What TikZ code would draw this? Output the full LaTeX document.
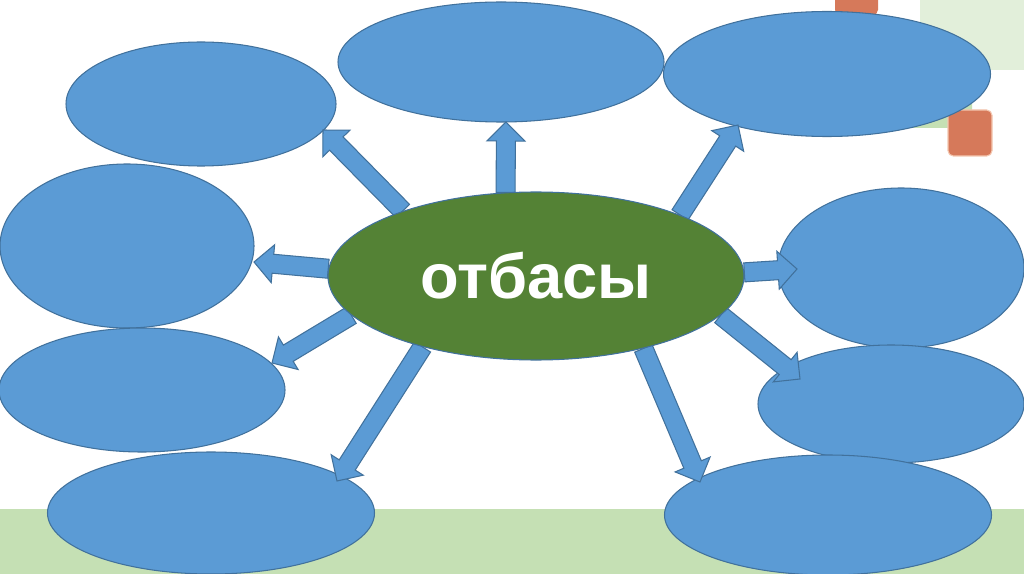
\documentclass[tikz,border=0pt]{standalone}
\usepackage{fontspec}
\setmainfont{Liberation Sans}
\usetikzlibrary{shapes.geometric,calc}
\definecolor{blau}{HTML}{5B9BD5}
\definecolor{rand}{HTML}{41719C}
\definecolor{gruen}{HTML}{548235}
\definecolor{hellgruen}{HTML}{C5E0B4}
\definecolor{blassgruen}{HTML}{E2EFDA}
\definecolor{ziegel}{HTML}{D6795A}
\definecolor{rosa}{HTML}{F4C7B0}
\pgfdeclarelayer{deko}
\pgfdeclarelayer{blase}
\pgfdeclarelayer{pfeile}
\pgfsetlayers{deko,blase,pfeile,main}
\tikzset{
	blob/.style 2 args={ellipse, draw=rand, fill=blau, line width=0.6pt, inner sep=0pt, minimum width=#1*0.02cm, minimum height=#2*0.02cm},
	kern/.style={ellipse, draw=rand, fill=gruen, line width=0.6pt, inner sep=0pt, minimum width=416*0.02cm, minimum height=168*0.02cm, text=white, font=\fontsize{36}{42}\selectfont\bfseries},
}
\newcommand{\blockpfeil}[2]{%
	\path ($(#2)!0.38cm!(#1)$) coordinate (hb);
	\filldraw[blau, draw=rand, line width=0.6pt] ($(#1)!0.19cm!90:(#2)$) -- ($(hb)!0.19cm!90:(#2)$) -- ($(hb)!0.38cm!90:(#2)$) -- (#2) -- ($(hb)!0.38cm!-90:(#2)$) -- ($(hb)!0.19cm!-90:(#2)$) -- ($(#1)!0.19cm!-90:(#2)$) -- cycle;
}
\begin{document}
\begin{tikzpicture}[x=0.02cm, y=-0.02cm]
	\useasboundingbox (0,0) rectangle (1024,574);
	\begin{pgfonlayer}{deko}
	\fill[white] (0,0) rectangle (1024,574);
	\fill[hellgruen] (0,509) rectangle (1024,574);
	\fill[blassgruen] (920,0) rectangle (1024,70);
	\fill[hellgruen, rounded corners=3pt] (880,78) rectangle (972,128);
	\fill[ziegel, rounded corners=3pt] (835,-10) rectangle (878,15);
	\filldraw[ziegel, draw=rosa, line width=0.6pt, rounded corners=3pt] (948,110) rectangle (992,156);
	\end{pgfonlayer}
	\begin{pgfonlayer}{blase}
	\node (TL) at (201,104) [blob={270}{124}] {};
	\node (TM) at (501,62) [blob={326}{120}] {};
	\node (TR) at (827,74) [blob={327}{125}] {};
	\node (ML) at (127,246) [blob={254}{164}] {};
	\node (LL) at (142,390) [blob={286}{124}] {};
	\node (BL) at (211,513) [blob={327}{122}] {};
	\node (MR) at (901,268) [blob={246}{160}] {};
	\node (LR) at (891,404) [blob={266}{118}] {};
	\node (BR) at (828,515) [blob={327}{120}] {};
	\end{pgfonlayer}
	\node (Otbasy) at (536,276) [kern] {отбасы};
	\coordinate (tipTL) at (323,130);
	\coordinate (tipTM) at (506,122);
	\coordinate (tipTR) at (738,125);
	\coordinate (tipML) at (254,262);
	\coordinate (tipMR) at (797,269);
	\coordinate (tipLR) at (800,379);
	\coordinate (tipLL) at (272,363);
	\coordinate (tipBL) at (337,481);
	\coordinate (tipBR) at (700,482);
	\begin{pgfonlayer}{pfeile}
	\blockpfeil{Otbasy.154}{tipTL}
	\blockpfeil{Otbasy.110}{tipTM}
	\blockpfeil{Otbasy.23}{tipTR}
	\blockpfeil{Otbasy.178}{tipML}
	\blockpfeil{Otbasy.1.5}{tipMR}
	\blockpfeil{Otbasy.-12}{tipLR}
	\blockpfeil{Otbasy.-168.6}{tipLL}
	\blockpfeil{Otbasy.-148.3}{tipBL}
	\blockpfeil{Otbasy.-34.4}{tipBR}
	\end{pgfonlayer}
\end{tikzpicture}
\end{document}
